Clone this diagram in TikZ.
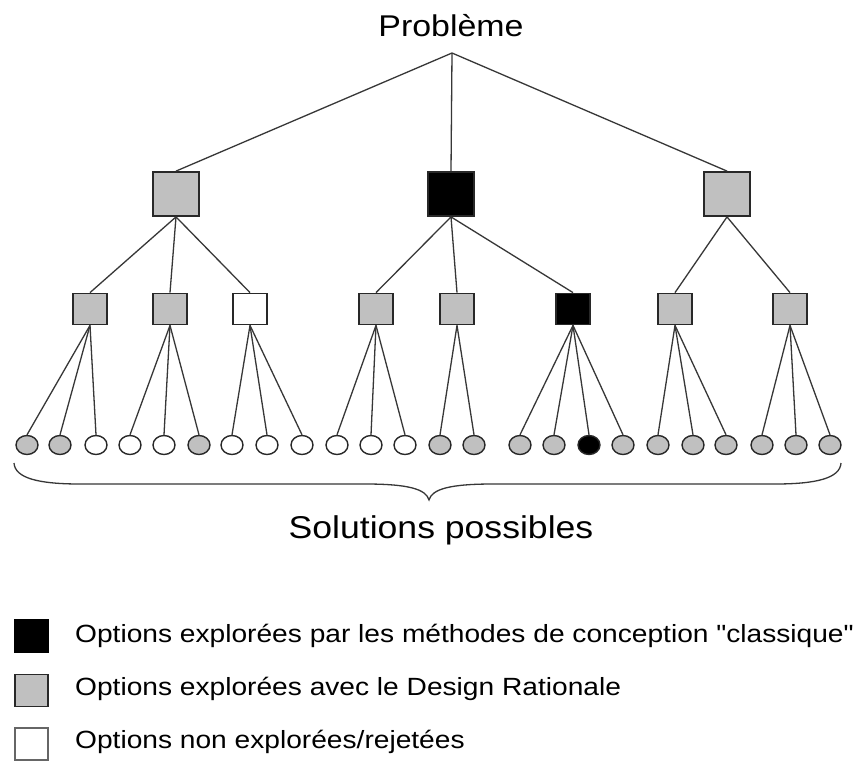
\documentclass[tikz,border=0pt]{standalone}
\usepackage{fontspec}
\newfontfamily\lsans{Liberation Sans}[FakeStretch=1.13]
\usetikzlibrary{shapes.geometric}
\definecolor{gfill}{RGB}{192,192,192}
\definecolor{edgec}{RGB}{55,55,55}
\definecolor{boxc}{RGB}{40,40,40}
\tikzset{
  lvone/.style={draw=boxc, line width=1.8pt, minimum width=46pt, minimum height=44pt, inner sep=0pt},
  lvtwo/.style={draw=boxc, line width=1.8pt, minimum width=34pt, minimum height=31pt, inner sep=0pt},
  leaf/.style={ellipse, draw=boxc, line width=1.4pt, minimum width=22pt, minimum height=19pt, inner sep=0pt},
  gr/.style={fill=gfill}, bk/.style={fill=black}, wh/.style={fill=white},
  edge/.style={draw=edgec, line width=1.3pt},
  legsq/.style={line width=1.6pt, minimum width=33pt, minimum height=32pt, inner sep=0pt},
  legtxt/.style={anchor=base west, inner sep=0pt, font=\lsans\fontsize{24.9}{30}\selectfont},
  bigtxt/.style={anchor=base, inner sep=0pt}
}
\begin{document}
\begin{tikzpicture}[x=1pt,y=-1pt]
\useasboundingbox[fill=white] (0,0) rectangle (856,760);
% root
\node[bigtxt, font=\lsans\fontsize{30}{36}\selectfont] (prob) at (451,37) {Problème};
\coordinate (apex) at (452,53);
% level 1
\node[lvone,gr] (a1) at (176,194) {};
\node[lvone,bk] (a2) at (451,194) {};
\node[lvone,gr] (a3) at (727,194) {};
\foreach \n in {a1,a2,a3} \draw[edge] (apex) -- (\n.north);
% level 2
\foreach \x/\c/\p [count=\i] in {90/gr/a1,170/gr/a1,250/wh/a1,376/gr/a2,457/gr/a2,573/bk/a2,675/gr/a3,790/gr/a3}{
  \node[lvtwo,\c] (b\i) at (\x,309) {};
  \draw[edge] (\p.south) -- (b\i.north);
}
% leaves
\foreach \x/\c/\p [count=\i] in {27/gr/b1,60/gr/b1,96/wh/b1,
  130/wh/b2,164/wh/b2,199/gr/b2,
  232/wh/b3,267/wh/b3,302/wh/b3,
  337/wh/b4,371/wh/b4,405/wh/b4,
  440/gr/b5,474/gr/b5,
  520/gr/b6,554/gr/b6,589/bk/b6,623/gr/b6,
  658/gr/b7,693/gr/b7,726/gr/b7,
  762/gr/b8,796/gr/b8,830/gr/b8}{
  \node[leaf,\c] (l\i) at (\x,445) {};
  \draw[edge] (\p.south) -- (l\i.north);
}
% brace
\coordinate (brl) at (14,463);
\coordinate (brr) at (841,463);
\coordinate (brt) at (429,500);
\draw[edgec, line width=1.3pt] (brl) .. controls (15,478) and (38,484) .. (80,484)
  -- (365,484) .. controls (408,484) and (426,489) .. (brt)
  .. controls (432,489) and (450,484) .. (493,484)
  -- (775,484) .. controls (817,484) and (840,478) .. (brr);
\node[bigtxt, font=\lsans\fontsize{31.5}{38}\selectfont] (sol) at (441,538) {Solutions possibles};
% legend
\node[legsq, fill=black, draw=black] (k1) at (31.5,636) {};
\node[legsq, fill=gfill, draw=boxc] (k2) at (31.5,690.5) {};
\node[legsq, fill=white, draw=black!60, line width=1.2pt] (k3) at (31.5,744) {};
\node[legtxt] (t1) at (75,642) {Options explorées par les méthodes de conception "classique"};
\node[legtxt] (t2) at (75,695) {Options explorées avec le Design Rationale};
\node[legtxt] (t3) at (75,748) {Options non explorées/rejetées};
\end{tikzpicture}
\end{document}
